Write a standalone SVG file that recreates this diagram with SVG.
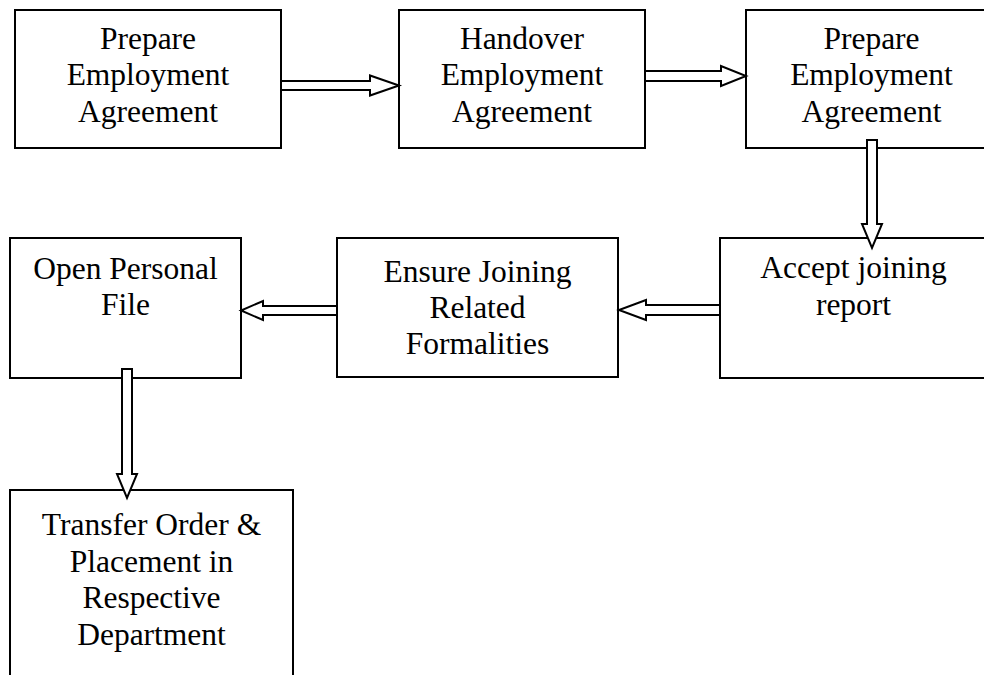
<svg xmlns="http://www.w3.org/2000/svg" width="984" height="675" viewBox="0 0 984 675">
  <style>
    .box { fill: #ffffff; stroke: #000000; stroke-width: 2; }
    .arrow { fill: #ffffff; stroke: #000000; stroke-width: 2; stroke-linejoin: miter; }
    text { font-family: "Liberation Serif", "Times New Roman", serif; font-size: 31.5px; fill: #000000; text-anchor: middle; }
  </style>
  <rect width="984" height="675" fill="#ffffff"/>

  <g id="prepare-agreement-1">
    <rect class="box" x="15" y="10" width="266" height="138"/>
    <text x="148" y="48.5">Prepare</text>
    <text x="148" y="85">Employment</text>
    <text x="148" y="121.5">Agreement</text>
  </g>

  <g id="handover-agreement">
    <rect class="box" x="399" y="10" width="246" height="138"/>
    <text x="522" y="48.5">Handover</text>
    <text x="522" y="85">Employment</text>
    <text x="522" y="121.5">Agreement</text>
  </g>

  <g id="prepare-agreement-2">
    <rect class="box" x="746" y="10" width="252" height="138"/>
    <text x="871.5" y="48.5">Prepare</text>
    <text x="871.5" y="85">Employment</text>
    <text x="871.5" y="121.5">Agreement</text>
  </g>

  <g id="accept-joining-report">
    <rect class="box" x="720" y="238" width="280" height="140"/>
    <text x="853.5" y="278">Accept joining</text>
    <text x="853.5" y="314.5">report</text>
  </g>

  <g id="ensure-joining-formalities">
    <rect class="box" x="337" y="238" width="281" height="139"/>
    <text x="477.5" y="282">Ensure Joining</text>
    <text x="477.5" y="318">Related</text>
    <text x="477.5" y="354">Formalities</text>
  </g>

  <g id="open-personal-file">
    <rect class="box" x="10" y="238" width="231" height="140"/>
    <text x="125.5" y="279">Open Personal</text>
    <text x="125.5" y="315">File</text>
  </g>

  <g id="transfer-order-placement">
    <rect class="box" x="10" y="490" width="283" height="200"/>
    <text x="151.5" y="535">Transfer Order &amp;</text>
    <text x="151.5" y="571.5">Placement in</text>
    <text x="151.5" y="608">Respective</text>
    <text x="151.5" y="645">Department</text>
  </g>

  <!-- block arrows between steps -->
  <g id="connectors">
    <polygon class="arrow" points="281,81 370,81 370,75.5 399,85.5 370,95.5 370,90 281,90"/>
    <polygon class="arrow" points="645,71 721,71 721,66 746,76 721,86 721,81 645,81"/>
    <polygon class="arrow" points="867,140 877,140 877,224 882,224 872,248 862,224 867,224"/>
    <polygon class="arrow" points="720,305 646,305 646,300 619,310 646,320 646,315 720,315"/>
    <polygon class="arrow" points="337,306 263,306 263,301 241,310.5 263,320 263,315 337,315"/>
    <polygon class="arrow" points="122,369 132,369 132,474 137,474 127,498 117,474 122,474"/>
  </g>
</svg>
